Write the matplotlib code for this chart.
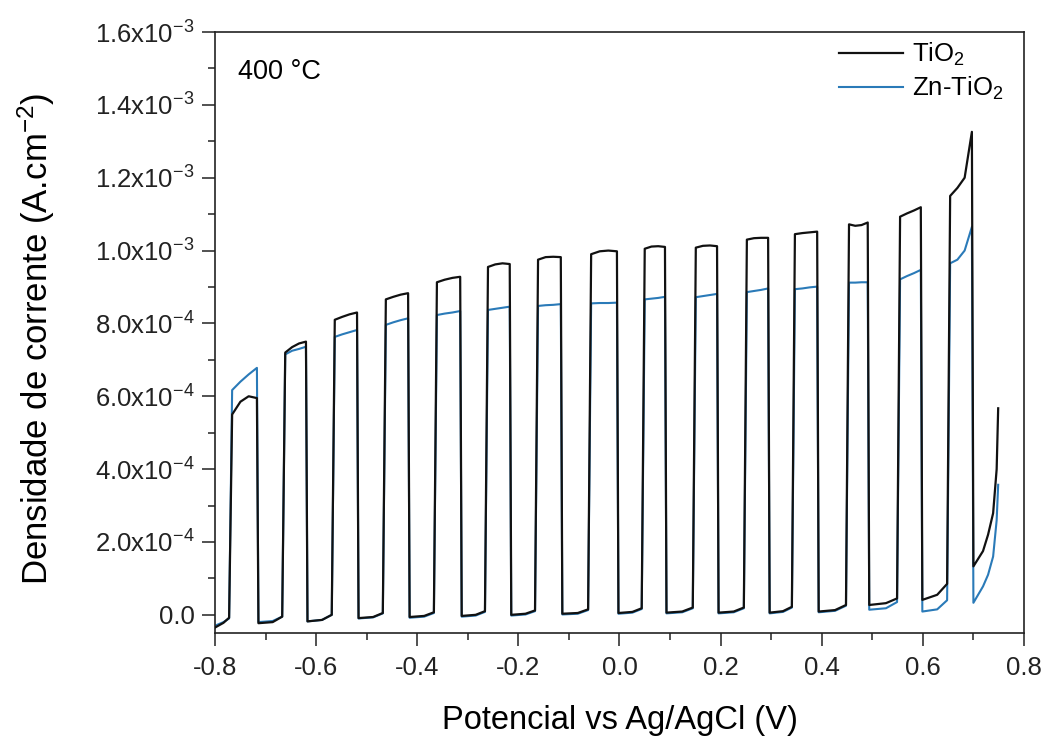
import numpy as np
import matplotlib
matplotlib.use("Agg")
import matplotlib.pyplot as plt
from matplotlib.ticker import MultipleLocator, FixedLocator, FixedFormatter

# Chopped-light sweep, current values read in units of 1e-3 A/cm2
pulse_on = [-0.772, -0.667, -0.569, -0.468, -0.367, -0.266, -0.167, -0.062,
            0.044, 0.145, 0.246, 0.341, 0.448, 0.549, 0.648]
pulse_off = [-0.717, -0.620, -0.519, -0.418, -0.315, -0.217, -0.116, -0.005,
             0.090, 0.193, 0.294, 0.391, 0.491, 0.596, 0.697]

# light-on plateau (start, 1/3, 2/3, end)
tio2_light = [
    [0.550, 0.585, 0.600, 0.595],
    [0.720, 0.735, 0.745, 0.750],
    [0.810, 0.818, 0.825, 0.830],
    [0.866, 0.873, 0.879, 0.883],
    [0.913, 0.920, 0.925, 0.928],
    [0.955, 0.962, 0.965, 0.963],
    [0.975, 0.982, 0.983, 0.982],
    [0.990, 0.998, 1.000, 0.998],
    [1.005, 1.011, 1.012, 1.010],
    [1.008, 1.013, 1.014, 1.012],
    [1.030, 1.034, 1.035, 1.035],
    [1.045, 1.048, 1.050, 1.052],
    [1.072, 1.068, 1.070, 1.077],
    [1.093, 1.102, 1.110, 1.119],
    [1.150, 1.172, 1.200, 1.326],
]
zn_light = [
    [0.617, 0.640, 0.660, 0.678],
    [0.715, 0.725, 0.730, 0.736],
    [0.763, 0.770, 0.776, 0.782],
    [0.796, 0.803, 0.809, 0.814],
    [0.823, 0.827, 0.830, 0.834],
    [0.837, 0.840, 0.843, 0.846],
    [0.848, 0.850, 0.851, 0.853],
    [0.855, 0.856, 0.856, 0.857],
    [0.866, 0.868, 0.870, 0.873],
    [0.872, 0.875, 0.878, 0.881],
    [0.886, 0.889, 0.892, 0.896],
    [0.894, 0.896, 0.899, 0.901],
    [0.912, 0.912, 0.913, 0.913],
    [0.921, 0.930, 0.938, 0.947],
    [0.965, 0.975, 1.000, 1.065],
]

# dark current before each pulse (start, 60 %, end)
tio2_dark = [
    [-0.035, -0.022, -0.008],
    [-0.023, -0.020, -0.005],
    [-0.018, -0.014, 0.000],
    [-0.009, -0.006, 0.005],
    [-0.006, -0.003, 0.007],
    [-0.003, 0.000, 0.010],
    [0.000, 0.003, 0.012],
    [0.003, 0.005, 0.015],
    [0.005, 0.008, 0.018],
    [0.006, 0.009, 0.020],
    [0.006, 0.009, 0.020],
    [0.006, 0.010, 0.022],
    [0.009, 0.013, 0.027],
    [0.027, 0.032, 0.045],
    [0.041, 0.055, 0.085],
]
zn_dark = [
    [-0.030, -0.020, -0.010],
    [-0.020, -0.017, -0.005],
    [-0.018, -0.014, 0.000],
    [-0.010, -0.007, 0.004],
    [-0.008, -0.005, 0.005],
    [-0.005, -0.002, 0.008],
    [-0.002, 0.001, 0.010],
    [0.001, 0.003, 0.013],
    [0.003, 0.006, 0.016],
    [0.004, 0.007, 0.018],
    [0.004, 0.007, 0.018],
    [0.004, 0.008, 0.020],
    [0.007, 0.011, 0.025],
    [0.014, 0.018, 0.035],
    [0.009, 0.015, 0.040],
]

# last dark part after the final pulse
tail_v = [0.700, 0.719, 0.729, 0.739, 0.746, 0.749]
tio2_tail = [0.133, 0.175, 0.220, 0.279, 0.400, 0.567]
zn_tail = [0.033, 0.078, 0.110, 0.160, 0.260, 0.357]

x_start = -0.8
rise_w = 0.006
fall_w = 0.003
dark_frac = [0.0, 0.6, 1.0]
light_frac = [0.0, 1 / 3, 2 / 3, 1.0]


def build_trace(light, dark, tail):
    v, cur = [], []
    for k in range(len(pulse_on)):
        seg_start = x_start if k == 0 else pulse_off[k - 1] + fall_w
        seg_end = pulse_on[k]
        for f, val in zip(dark_frac, dark[k]):
            v.append(seg_start + f * (seg_end - seg_start))
            cur.append(val)
        top_start = pulse_on[k] + rise_w
        for f, val in zip(light_frac, light[k]):
            v.append(top_start + f * (pulse_off[k] - top_start))
            cur.append(val)
    v += tail_v
    cur += tail
    return np.array(v), np.array(cur) * 1e-3


plt.rcParams["font.family"] = ["Liberation Sans", "DejaVu Sans"]
plt.rcParams["mathtext.fontset"] = "custom"
plt.rcParams["mathtext.rm"] = "Liberation Sans"
plt.rcParams["mathtext.it"] = "Liberation Sans:italic"
plt.rcParams["mathtext.bf"] = "Liberation Sans:bold"

fig = plt.figure(figsize=(10.47, 7.36), dpi=100)
ax = fig.add_axes([0.2053, 0.1399, 0.7727, 0.8166])

v1, i1 = build_trace(tio2_light, tio2_dark, tio2_tail)
v2, i2 = build_trace(zn_light, zn_dark, zn_tail)
l2, = ax.plot(v2, i2, color="#2a7ab8", lw=1.5, label="Zn-TiO$_\\mathregular{2}$", zorder=2)
l1, = ax.plot(v1, i1, color="#111111", lw=1.6, label="TiO$_\\mathregular{2}$", zorder=3)

ax.set_xlim(-0.8, 0.8)
ax.set_ylim(-5e-5, 1.6e-3)

ax.xaxis.set_major_locator(MultipleLocator(0.2))
ax.xaxis.set_minor_locator(MultipleLocator(0.1))
ax.xaxis.set_major_formatter(matplotlib.ticker.FuncFormatter(lambda x, p: f"{x:.1f}"))

yticks = [0, 2e-4, 4e-4, 6e-4, 8e-4, 1.0e-3, 1.2e-3, 1.4e-3, 1.6e-3]
ylabels = ["0.0", "2.0x10$^{\\mathregular{-4}}$", "4.0x10$^{\\mathregular{-4}}$",
           "6.0x10$^{\\mathregular{-4}}$", "8.0x10$^{\\mathregular{-4}}$",
           "1.0x10$^{\\mathregular{-3}}$", "1.2x10$^{\\mathregular{-3}}$",
           "1.4x10$^{\\mathregular{-3}}$", "1.6x10$^{\\mathregular{-3}}$"]
ax.yaxis.set_major_locator(FixedLocator(yticks))
ax.yaxis.set_major_formatter(FixedFormatter(ylabels))
ax.yaxis.set_minor_locator(MultipleLocator(1e-4))

ax.tick_params(which="both", direction="out", width=1.1, colors="#222222",
               top=False, right=False)
ax.tick_params(which="major", length=9.5, labelsize=18.5, pad=5)
ax.tick_params(axis="x", which="major", pad=7)
ax.tick_params(which="minor", length=5)
for s in ax.spines.values():
    s.set_linewidth(1.2)
    s.set_color("#222222")

ax.set_xlabel("Potencial vs Ag/AgCl (V)", fontsize=23.5)
ax.set_ylabel("Densidade de corrente (A.cm$^{\\mathregular{-2}}$)", fontsize=25)
ax.xaxis.set_label_coords(0.5, -0.12)
ax.yaxis.set_label_coords(-0.195, 0.49)

ax.text(0.028, 0.955, "400 °C", transform=ax.transAxes, fontsize=19.5,
        ha="left", va="top")

ax.legend(handles=[l1, l2], loc="upper right", bbox_to_anchor=(0.975, 0.985),
          frameon=False, fontsize=18.5, handlelength=2.5, handletextpad=0.35,
          labelspacing=0.25, borderaxespad=0, borderpad=0)

fig.savefig("out.png", dpi=100)
